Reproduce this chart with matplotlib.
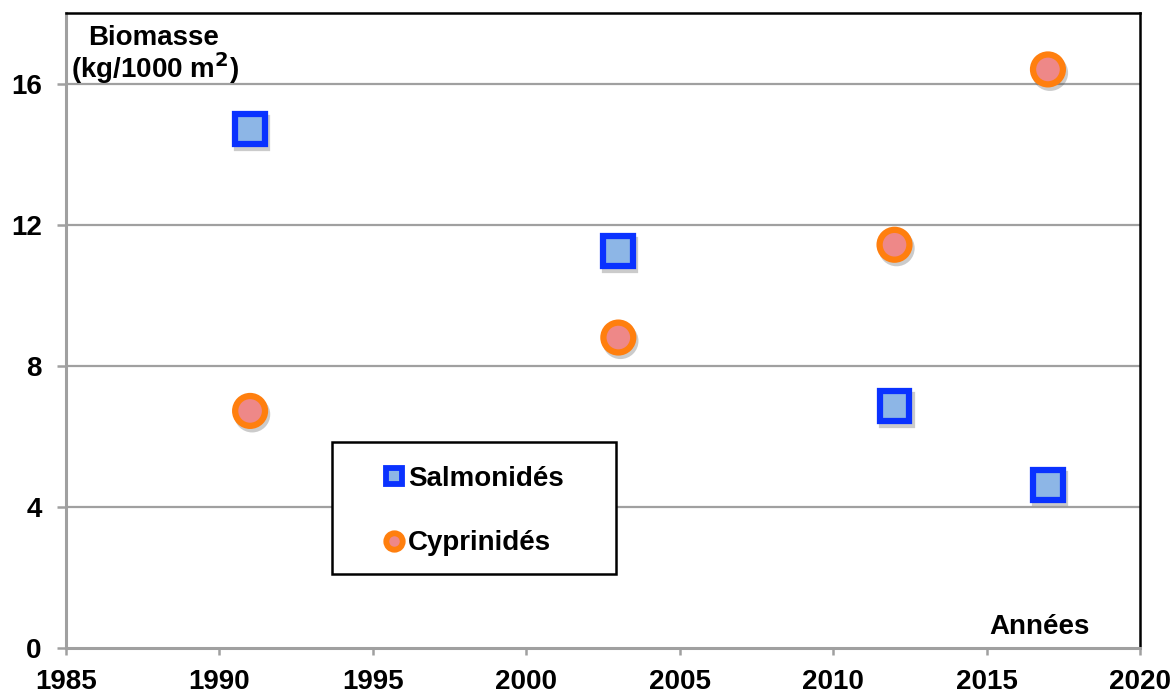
import matplotlib.pyplot as plt
import matplotlib.patheffects as pe
from matplotlib.patches import Rectangle

plt.rcParams['font.family'] = ['Liberation Sans', 'DejaVu Sans']
plt.rcParams['font.weight'] = 'bold'

years = [1991, 2003, 2012, 2017]
salmonides = [14.7, 11.25, 6.85, 4.62]
cyprinides = [6.72, 8.8, 11.43, 16.4]
xticks = [1985, 1990, 1995, 2000, 2005, 2010, 2015, 2020]
yticks = [0, 4, 8, 12, 16]

fig = plt.figure(figsize=(11.76, 6.94), dpi=100)
ax = fig.add_axes([0.0561, 0.0663, 0.9133, 0.915])

grid_col = '#a0a0a0'
fs = 20
for y in yticks[1:]:
    ax.axhline(y, color=grid_col, lw=1.6, zorder=1)

shadow = [pe.SimpleLineShadow(offset=(1.5, -2.5), shadow_color='#555555', alpha=0.3),
          pe.Normal()]

ax.plot(years, salmonides, ls='none', marker='s', ms=21.5, mfc='#8db6e6',
        mec='#0a32ff', mew=4.5, zorder=3, path_effects=shadow,
        label='Salmonidés')
ax.plot(years, cyprinides, ls='none', marker='o', ms=21.5, mfc='#ee8888',
        mec='#ff7f0e', mew=4.5, zorder=3, path_effects=shadow,
        label='Cyprinidés')

ax.set_xlim(1985, 2020)
ax.set_ylim(0, 18)
ax.set_xticks(xticks)
ax.set_yticks(yticks)
ax.tick_params(axis='both', labelsize=fs, color=grid_col, width=1.8)
ax.tick_params(axis='x', length=5, direction='out', pad=10)
ax.tick_params(axis='y', length=6.5, direction='out', pad=11)
for lab in ax.get_xticklabels() + ax.get_yticklabels():
    lab.set_fontweight('bold')

for side in ['left', 'bottom']:
    ax.spines[side].set_color(grid_col)
    ax.spines[side].set_linewidth(2.2)
for side in ['top', 'right']:
    ax.spines[side].set_color('black')
    ax.spines[side].set_linewidth(1.8)

ax.text(0.0205, 0.949, 'Biomasse', transform=ax.transAxes, fontsize=fs,
        fontweight='bold', ha='left', va='baseline')
ax.text(0.0045, 0.898, '(kg/1000 m$^\\mathbf{2}$)', transform=ax.transAxes,
        fontsize=fs, fontweight='bold', ha='left', va='baseline')
ax.text(0.9534, 0.022, 'Années', transform=ax.transAxes, fontsize=fs,
        fontweight='bold', ha='right', va='baseline')

# legend frame drawn separately so its size matches the reference
ax.add_patch(Rectangle((0.2477, 0.1165), 0.2644, 0.208, transform=ax.transAxes,
                       facecolor='white', edgecolor='black', lw=1.8, zorder=4))
leg = ax.legend(loc='center left', bbox_to_anchor=(0.2952, 0.2157), fontsize=fs,
                frameon=False, markerscale=0.55, handlelength=0.8,
                handletextpad=0.1, borderpad=0, labelspacing=1.4,
                borderaxespad=0)
for t in leg.get_texts():
    t.set_fontweight('bold')
for h in leg.legend_handles:
    h.set_path_effects([])
    h.set_markeredgewidth(4.2)
leg.set_zorder(5)

fig.savefig('out.png', dpi=100)
